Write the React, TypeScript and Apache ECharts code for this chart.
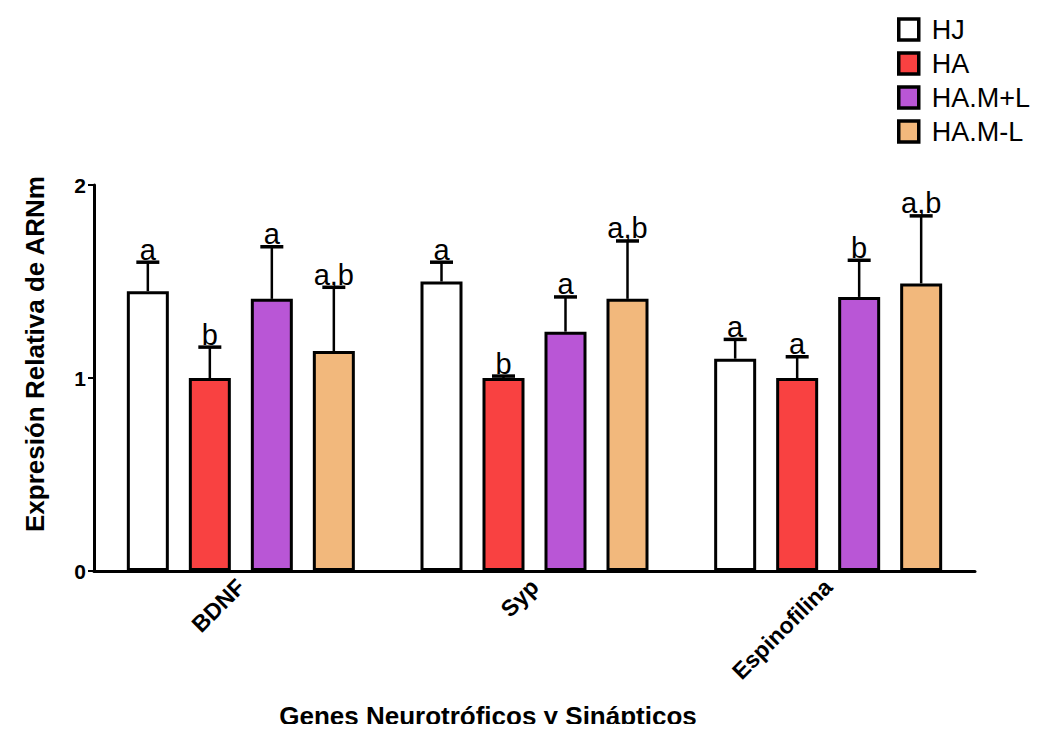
import React, { useEffect, useRef } from 'react';
import * as echarts from 'echarts';

const categories = ['BDNF', 'Syp', 'Espinofilina'];
const groups = ['HJ', 'HA', 'HA.M+L', 'HA.M-L'];
const colors = ['#ffffff', '#f94141', '#b956d6', '#f2b87c'];

const hjMean = [1.45, 1.5, 1.1];
const haMean = [1.0, 1.0, 1.0];
const hamPlusMean = [1.41, 1.24, 1.42];
const hamMinusMean = [1.14, 1.41, 1.49];

const hjUpper = [1.6, 1.6, 1.2];
const haUpper = [1.16, 1.01, 1.11];
const hamPlusUpper = [1.68, 1.42, 1.61];
const hamMinusUpper = [1.47, 1.71, 1.84];

const hjLetters = ['a', 'a', 'a'];
const haLetters = ['b', 'b', 'a'];
const hamPlusLetters = ['a', 'a', 'b'];
const hamMinusLetters = ['a,b', 'a,b', 'a,b'];

const yMin = 0;
const yMax = 2;
const yInterval = 1;

const xTitle = 'Genes Neurotróficos y Sinápticos';
const yTitle = 'Expresión Relativa de ARNm';

const FONT = '"Liberation Sans", Arial, Helvetica, sans-serif';

export default function App() {
  const ref = useRef<HTMLDivElement>(null);

  useEffect(() => {
    if (!ref.current) return;
    const chart = echarts.init(ref.current, undefined, { renderer: 'svg' });

    const means = [hjMean, haMean, hamPlusMean, hamMinusMean];
    const uppers = [hjUpper, haUpper, hamPlusUpper, hamMinusUpper];
    const letters = [hjLetters, haLetters, hamPlusLetters, hamMinusLetters];

    const BAR_W = 42;
    const GAP = 20;

    const errData: number[][] = [];
    const errLetters: string[] = [];
    for (let s = 0; s < groups.length; s++) {
      for (let c = 0; c < categories.length; c++) {
        errData.push([c, s, means[s][c], uppers[s][c]]);
        errLetters.push(letters[s][c]);
      }
    }

    const barSeries = groups.map((g, i) => ({
      name: g,
      type: 'bar',
      data: means[i],
      barWidth: BAR_W,
      barGap: (GAP / BAR_W) * 100 + '%',
      itemStyle: { color: colors[i], borderColor: '#000', borderWidth: 3 },
      z: 2,
    }));

    const option: any = {
      animation: false,
      backgroundColor: '#ffffff',
      grid: { left: 94, right: 64, top: 185, bottom: 161, containLabel: false },
      legend: {
        data: groups,
        orient: 'vertical',
        left: 892,
        top: 11,
        itemWidth: 20,
        itemHeight: 21,
        itemGap: 7,
        icon: 'rect',
        itemStyle: { borderColor: '#000', borderWidth: 3.5 },
        textStyle: { fontSize: 27, fontFamily: FONT, color: '#000', padding: [0, 0, 0, 8] },
      },
      xAxis: {
        type: 'category',
        data: categories,
        axisLine: { lineStyle: { color: '#000', width: 3 } },
        axisTick: { alignWithLabel: true, length: 6, lineStyle: { color: '#000', width: 2 } },
        axisLabel: {
          rotate: 45,
          margin: 12,
          fontSize: 23,
          fontWeight: 'bold',
          fontFamily: FONT,
          color: '#000',
        },
      },
      yAxis: {
        type: 'value',
        min: yMin,
        max: yMax,
        interval: yInterval,
        splitLine: { show: false },
        axisLine: { show: true, lineStyle: { color: '#000', width: 3 } },
        axisTick: { show: true, length: 6, lineStyle: { color: '#000', width: 2 } },
        axisLabel: {
          margin: 8,
          fontSize: 21,
          fontWeight: 'bold',
          fontFamily: FONT,
          color: '#000',
        },
      },
      graphic: [
        {
          type: 'text',
          x: 35,
          y: 354,
          rotation: Math.PI / 2,
          style: {
            text: yTitle,
            font: `bold 26px ${FONT}`,
            fill: '#000',
            align: 'center',
            verticalAlign: 'middle',
          },
        },
        {
          type: 'text',
          x: 488,
          y: 716,
          style: {
            text: xTitle,
            font: `bold 26px ${FONT}`,
            fill: '#000',
            align: 'center',
            verticalAlign: 'middle',
          },
        },
      ],
      series: [
        ...barSeries,
        {
          type: 'custom',
          clip: false,
          z: 5,
          encode: { x: 0, y: 3 },
          data: errData,
          renderItem: (params: any, api: any) => {
            const c = api.value(0);
            const s = api.value(1);
            const base = api.coord([c, api.value(2)]);
            const top = api.coord([c, api.value(3)]);
            const x = base[0] + (s - 1.5) * (BAR_W + GAP);
            const capHalf = 11.5;
            return {
              type: 'group',
              children: [
                {
                  type: 'line',
                  shape: { x1: x, y1: base[1], x2: x, y2: top[1] },
                  style: { stroke: '#000', lineWidth: 2.5 },
                },
                {
                  type: 'line',
                  shape: { x1: x - capHalf, y1: top[1], x2: x + capHalf, y2: top[1] },
                  style: { stroke: '#000', lineWidth: 3.5 },
                },
                {
                  type: 'text',
                  style: {
                    x: x,
                    y: top[1] + 2,
                    text: errLetters[params.dataIndex],
                    font: `29px ${FONT}`,
                    fill: '#000',
                    align: 'center',
                    verticalAlign: 'bottom',
                  },
                },
              ],
            };
          },
        },
      ],
    };

    chart.setOption(option);
    return () => chart.dispose();
  }, []);

  return <div ref={ref} style={{ width: 1039, height: 732, margin: -8 }} />;
}
